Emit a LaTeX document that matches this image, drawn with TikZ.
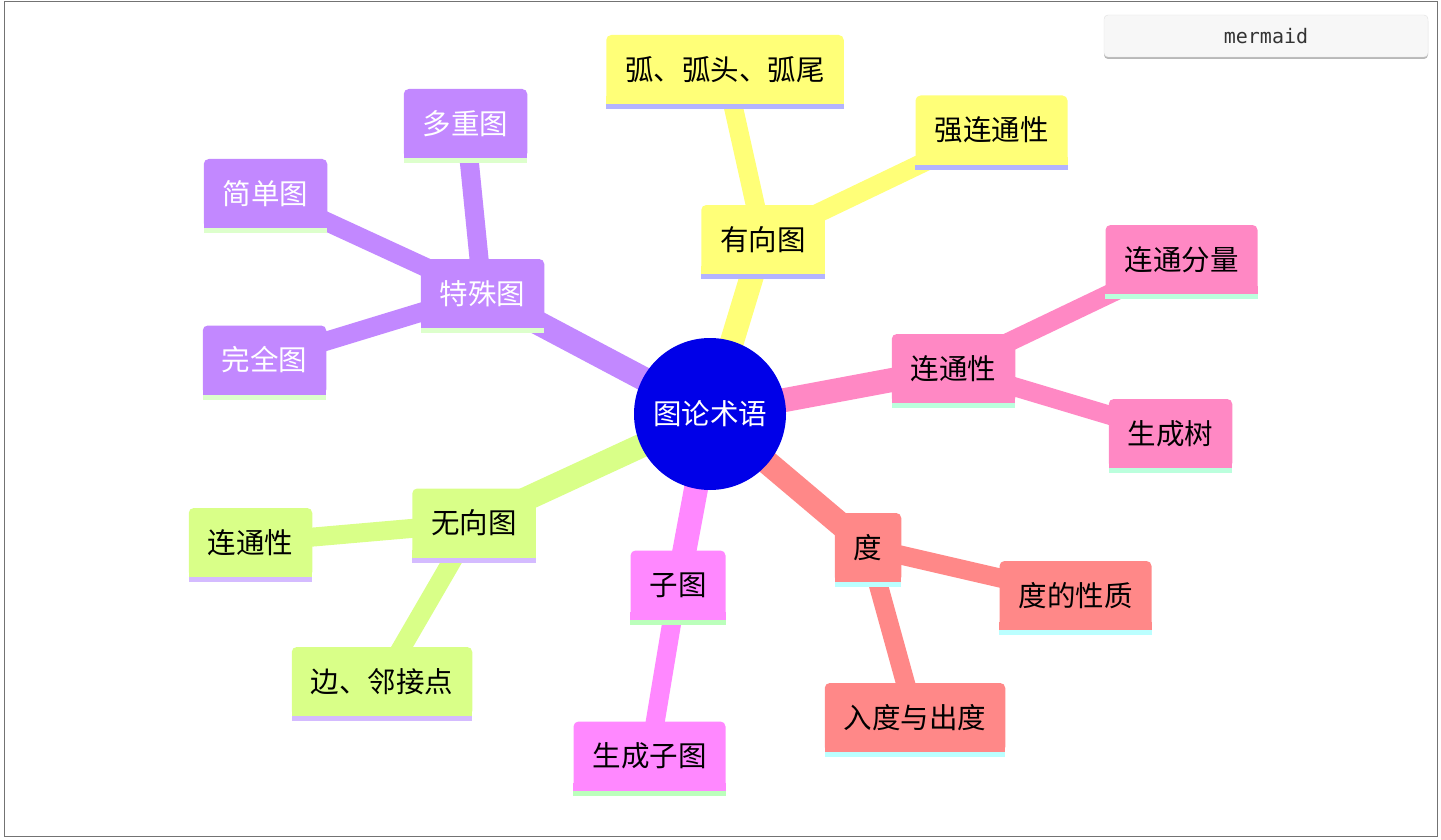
\documentclass[tikz,border=0pt]{standalone}
\usepackage{fontspec}
\setmainfont{Noto Sans CJK SC}
\newfontfamily\monofont{DejaVu Sans Mono}
\usepackage{xcolor}
\usepackage{tikz}
\usetikzlibrary{calc}
\pgfdeclarelayer{bg}
\pgfsetlayers{bg,main}

\definecolor{rootblue}{HTML}{0000E8}
\definecolor{purplefill}{HTML}{C288FF}
\definecolor{purpleline}{HTML}{DDFFCC}
\definecolor{yellowfill}{HTML}{FFFF78}
\definecolor{yellowline}{HTML}{B4B4FF}
\definecolor{pinkfill}{HTML}{FF88C4}
\definecolor{pinkline}{HTML}{BBFFDD}
\definecolor{salmonfill}{HTML}{FF8888}
\definecolor{salmonline}{HTML}{BBFFFF}
\definecolor{magentafill}{HTML}{FF88FF}
\definecolor{magentaline}{HTML}{BBFFBB}
\definecolor{limefill}{HTML}{D9FF88}
\definecolor{limeline}{HTML}{D4BBFF}

\begin{document}
\begin{tikzpicture}[
  x=1pt, y=-1pt,
  topic/.style={rounded corners=5pt, minimum height=69pt, inner xsep=19pt, inner ysep=0pt, align=center, font=\fontsize{28.5}{30}\selectfont},
  rootnode/.style={circle, fill=rootblue, minimum size=152pt, inner sep=0pt, text=white, font=\fontsize{28.5}{30}\selectfont},
  trunk/.style={line width=24pt},
  branch/.style={line width=19pt}
]
\useasboundingbox (0,0) rectangle (1441,840);
\draw[gray!90!black, line width=1pt] (4,2) rectangle (1437,836);

% mermaid button
\fill[black!28, rounded corners=4pt] (1104,17) rectangle (1428,59);
\node[draw=black!12, fill=black!3, rounded corners=4pt, minimum width=324pt, minimum height=42pt, font=\monofont\fontsize{20}{22}\selectfont, text=black!80] (btn) at (1266,36) {mermaid};

% nodes
\node[rootnode] (root) at (710,414) {图论术语};

\node[topic, fill=purplefill, text=white] (special) at (482.5,293.5) {特殊图};
\node[topic, fill=purplefill, text=white] (multi) at (465.5,123.5) {多重图};
\node[topic, fill=purplefill, text=white] (simple) at (265.5,193.5) {简单图};
\node[topic, fill=purplefill, text=white] (complete) at (264.5,360) {完全图};

\node[topic, fill=yellowfill] (directed) at (763,239.5) {有向图};
\node[topic, fill=yellowfill] (arc) at (725,69.5) {弧、弧头、弧尾};
\node[topic, fill=yellowfill] (strong) at (991.5,130) {强连通性};

\node[topic, fill=pinkfill] (conn) at (953.5,368.5) {连通性};
\node[topic, fill=pinkfill] (comp) at (1181.5,259.5) {连通分量};
\node[topic, fill=pinkfill] (tree) at (1170.5,433.5) {生成树};

\node[topic, fill=salmonfill] (degree) at (868,547.5) {度};
\node[topic, fill=salmonfill] (degprop) at (1075.5,595.5) {度的性质};
\node[topic, fill=salmonfill] (inout) at (915,717.5) {入度与出度};

\node[topic, fill=magentafill] (sub) at (678,585) {子图};
\node[topic, fill=magentafill] (spansub) at (649.5,756) {生成子图};

\node[topic, fill=limefill] (undirected) at (474,523) {无向图};
\node[topic, fill=limefill] (uconn) at (250.5,542.5) {连通性};
\node[topic, fill=limefill] (adj) at (382,681.5) {边、邻接点};

% square bottoms and underlines
\foreach \n/\c in {special/purple, multi/purple, simple/purple, complete/purple,
                   directed/yellow, arc/yellow, strong/yellow,
                   conn/pink, comp/pink, tree/pink,
                   degree/salmon, degprop/salmon, inout/salmon,
                   sub/magenta, spansub/magenta,
                   undirected/lime, uconn/lime, adj/lime} {
  \fill[\c fill] ($(\n.south west)+(0,-8)$) rectangle (\n.south east);
  \fill[\c line] (\n.south west) rectangle ($(\n.south east)+(0,5)$);
}

% connectors
\begin{pgfonlayer}{bg}
\draw[trunk, purplefill] (root.center) -- (special.center);
\draw[trunk, yellowfill] (root.center) -- (directed.center);
\draw[trunk, pinkfill] (root.center) -- (conn.center);
\draw[trunk, salmonfill] (root.center) -- (degree.center);
\draw[trunk, magentafill] (root.center) -- (sub.center);
\draw[trunk, limefill] (root.center) -- (undirected.center);
\draw[branch, purplefill] (special.center) -- (multi.center);
\draw[branch, purplefill] (special.center) -- (simple.center);
\draw[branch, purplefill] (special.center) -- (complete.center);
\draw[branch, yellowfill] (directed.center) -- (arc.center);
\draw[branch, yellowfill] (directed.center) -- (strong.center);
\draw[branch, pinkfill] (conn.center) -- (comp.center);
\draw[branch, pinkfill] (conn.center) -- (tree.center);
\draw[branch, salmonfill] (degree.center) -- (degprop.center);
\draw[branch, salmonfill] (degree.center) -- (inout.center);
\draw[branch, magentafill] (sub.center) -- (spansub.center);
\draw[branch, limefill] (undirected.center) -- (uconn.center);
\draw[branch, limefill] (undirected.center) -- (adj.center);
\end{pgfonlayer}
\end{tikzpicture}
\end{document}
